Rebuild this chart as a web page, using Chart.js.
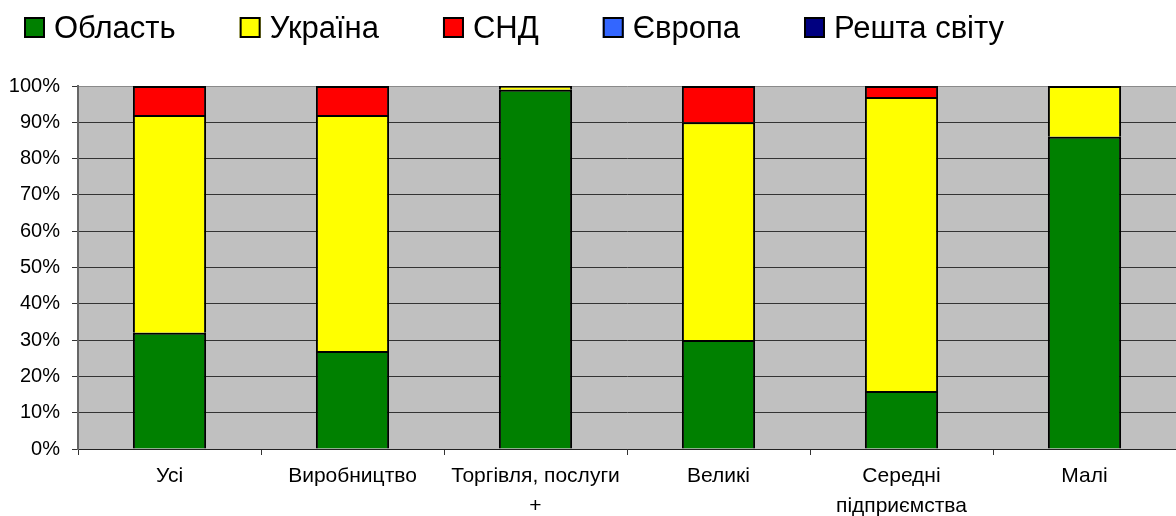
<!DOCTYPE html>
<html>
<head>
<meta charset="utf-8">
<script src="https://cdn.jsdelivr.net/npm/chart.js@4.4.1/dist/chart.umd.min.js"></script>
<style>
  html, body { margin: 0; padding: 0; background: #fff; }
  #wrap { width: 1176px; height: 516px; }
</style>
</head>
<body>
<div id="wrap"><canvas id="c" width="1176" height="516"></canvas></div>
<script>
const categories = ["Усі", "Виробництво", ["Торгівля, послуги", "+"], "Великі", ["Середні", "підприємства"], "Малі"];
const oblast   = [32, 27, 99, 30, 16, 86];
const ukraine  = [60, 65, 1, 60, 81, 14];
const snd      = [8, 8, 0, 10, 3, 0];
const europe   = [0, 0, 0, 0, 0, 0];
const restWorld = [0, 0, 0, 0, 0, 0];
const seriesNames = ["Область", "Україна", "СНД", "Європа", "Решта світу"];
const seriesColors = ["#008000", "#FFFF00", "#FF0000", "#3366FF", "#000080"];
const yTicks = [0, 10, 20, 30, 40, 50, 60, 70, 80, 90, 100];

const FONT = "'Liberation Sans', Arial, sans-serif";

// Legend drawn on the chart canvas from the datasets' labels/colours
const legendPlugin = {
  id: 'excelLegend',
  afterDraw(chart) {
    const c = chart.ctx;
    const box = 21, startX = 24, boxTop = 17, textGap = 9, itemGap = 64;
    c.save();
    c.font = "31px " + FONT;
    c.textBaseline = 'alphabetic';
    c.textAlign = 'left';
    let x = startX;
    chart.data.datasets.forEach((d) => {
      c.fillStyle = d.backgroundColor;
      c.fillRect(x, boxTop, box, box);
      c.lineWidth = 2;
      c.strokeStyle = '#000';
      c.strokeRect(x + 1, boxTop + 1, box - 2, box - 2);
      c.fillStyle = '#000';
      const tx = x + box + textGap;
      c.fillText(d.label, tx, boxTop + 21);
      x = tx + c.measureText(d.label).width + itemGap;
    });
    c.restore();
  }
};

const bgPlugin = {
  id: 'plotBg',
  beforeDraw(chart) {
    const a = chart.chartArea, c = chart.ctx;
    c.save();
    c.fillStyle = '#C0C0C0';
    c.fillRect(a.left, a.top, a.right - a.left, a.bottom - a.top);
    c.restore();
  }
};

const seriesData = [oblast, ukraine, snd, europe, restWorld];

new Chart(document.getElementById('c'), {
  type: 'bar',
  data: {
    labels: categories,
    datasets: seriesData.map((arr, i) => ({
      label: seriesNames[i],
      data: arr,
      backgroundColor: seriesColors[i],
      borderColor: '#000000',
      borderWidth: 2,
      barPercentage: 1.0,
      categoryPercentage: 0.4,
      stack: 's'
    }))
  },
  options: {
    responsive: false,
    animation: false,
    layout: { padding: { top: 86, left: 0, right: 0, bottom: 0 } },
    plugins: {
      legend: { display: false },
      tooltip: { enabled: false }
    },
    scales: {
      x: {
        stacked: true,
        grid: {
          display: true,
          drawOnChartArea: false,
          drawTicks: true,
          tickLength: 6,
          color: '#333333',
          offset: true
        },
        border: { display: true, color: '#222222', width: 1 },
        ticks: {
          font: { family: FONT, size: 21, lineHeight: 1.43 },
          color: '#000',
          padding: 6,
          autoSkip: false,
          maxRotation: 0
        },
        afterFit(scale) { scale.height = 516 - 449; }
      },
      y: {
        stacked: true,
        min: 0, max: 100,
        afterBuildTicks(scale) { scale.ticks = yTicks.map(v => ({ value: v })); },
        grid: {
          color: (ctx) => (ctx.tick && ctx.tick.value === 100) ? '#8a8a8a' : '#333333',
          tickColor: '#333333',
          tickLength: 6,
          lineWidth: 1
        },
        border: { display: true, color: '#666666', width: 2 },
        ticks: {
          font: { family: FONT, size: 20 },
          color: '#000',
          padding: 12,
          callback: (v) => v + '%'
        },
        afterFit(scale) { scale.width = 78; }
      }
    }
  },
  plugins: [bgPlugin, legendPlugin]
});
</script>
</body>
</html>
